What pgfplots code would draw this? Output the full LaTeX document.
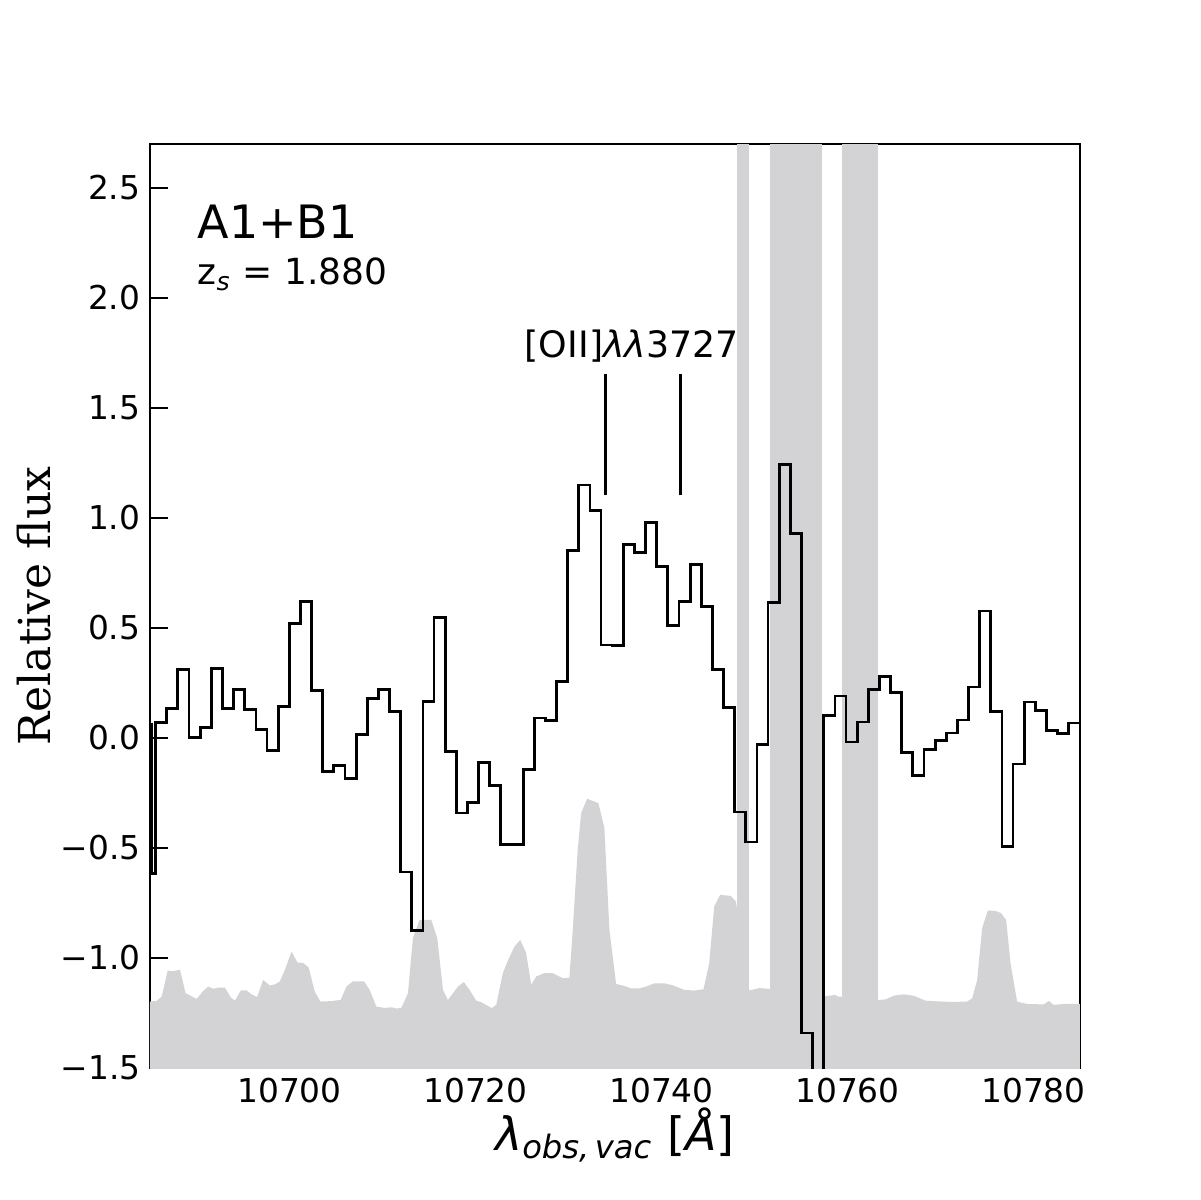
\documentclass[border=0pt]{standalone}
\usepackage{fontspec}
\setmainfont{DejaVu Sans}
\newfontfamily\seriffont{DejaVu Serif}
\usepackage{pgfplots}
\pgfplotsset{compat=1.18}
\definecolor{bandgray}{RGB}{211,210,212}
\begin{document}
\begin{tikzpicture}
\path[use as bounding box] (0,0) rectangle (360pt,360pt);
\begin{axis}[
  at={(45pt,39.6pt)}, anchor=south west,
  scale only axis, width=279pt, height=277.2pt,
  xmin=10685, xmax=10785, ymin=-1.5, ymax=2.7,
  scaled x ticks=false, scaled y ticks=false,
  axis line style={line width=0.75pt},
  tick align=inside, xtick pos=bottom, ytick pos=left,
  major tick length=5.4pt,
  every tick/.style={black, line width=0.6pt},
  xtick={10700,10720,10740,10760,10780},
  xticklabels={10700,10720,10740,10760,10780},
  ytick={-1.5,-1,-0.5,0,0.5,1,1.5,2,2.5},
  yticklabels={−1.5,−1.0,−0.5,0.0,0.5,1.0,1.5,2.0,2.5},
  tick label style={font=\fontsize{9.85}{11}\selectfont, inner sep=0pt},
  yticklabel style={xshift=-2.7pt},
  xticklabel style={yshift=-2.7pt},
  xlabel={\textit{λ}\textsubscript{\textit{obs,\,vac}} [\textit{Å}]},
  xlabel style={at={(axis description cs:0.5,-0.0898)}, anchor=base, font=\fontsize{13.8}{16}\selectfont},
  ylabel={Relative flux},
  ylabel style={at={(axis description cs:-0.1075,0.5)}, anchor=base, font=\seriffont\fontsize{13.2}{16}\selectfont},
  clip=true,
]
% masked regions
\addplot[fill=bandgray, draw=none] coordinates {(10748.07,-1.6) (10748.07,2.8) (10749.43,2.8) (10749.43,-1.6)};
\addplot[fill=bandgray, draw=none] coordinates {(10751.68,-1.6) (10751.68,2.8) (10757.24,2.8) (10757.24,-1.6)};
\addplot[fill=bandgray, draw=none] coordinates {(10759.45,-1.6) (10759.45,2.8) (10763.25,2.8) (10763.25,-1.6)};
% noise spectrum
\addplot[fill=bandgray, draw=none] coordinates {
(10685.00,-1.6) (10685.00,-1.198) (10685.72,-1.195) (10686.26,-1.175) (10686.90,-1.057) (10687.50,-1.060)
(10688.22,-1.053) (10688.83,-1.160) (10690.01,-1.186) (10690.72,-1.150) (10691.26,-1.130)
(10691.80,-1.140) (10692.33,-1.135) (10693.05,-1.135) (10693.70,-1.180) (10694.13,-1.194)
(10694.77,-1.147) (10695.38,-1.147) (10695.92,-1.165) (10696.52,-1.177) (10697.17,-1.100)
(10697.89,-1.125) (10698.42,-1.120) (10698.96,-1.107) (10699.50,-1.054) (10700.22,-0.971)
(10700.86,-1.021) (10701.46,-1.022) (10702.07,-1.044) (10702.72,-1.153) (10703.33,-1.198)
(10704.51,-1.196) (10705.51,-1.190) (10706.12,-1.130) (10706.83,-1.106) (10708.01,-1.106)
(10708.62,-1.145) (10709.34,-1.221) (10710.23,-1.227) (10711.02,-1.224) (10711.49,-1.230)
(10712.03,-1.226) (10712.74,-1.160) (10713.27,-0.910) (10713.99,-0.827) (10715.25,-0.827)
(10715.89,-0.910) (10716.50,-1.145) (10717.03,-1.191) (10718.11,-1.130) (10718.75,-1.109)
(10719.36,-1.145) (10720.08,-1.194) (10720.62,-1.201) (10721.76,-1.228) (10722.23,-1.213)
(10722.94,-1.069) (10723.48,-1.012) (10724.19,-0.948) (10724.81,-0.918) (10725.45,-0.978)
(10725.99,-1.122) (10726.53,-1.084) (10727.42,-1.069) (10728.31,-1.069) (10729.38,-1.092)
(10730.10,-1.089) (10730.46,-0.872) (10730.99,-0.508) (10731.36,-0.341) (10732.00,-0.276)
(10733.21,-0.296) (10733.86,-0.409) (10734.40,-0.872) (10735.12,-1.118) (10736.01,-1.127)
(10736.73,-1.138) (10737.62,-1.138) (10738.34,-1.130) (10739.23,-1.115) (10740.30,-1.115)
(10741.19,-1.124) (10742.45,-1.145) (10743.52,-1.148) (10744.52,-1.142) (10745.13,-1.024)
(10745.67,-0.766) (10746.31,-0.713) (10747.46,-0.718) (10748.00,-0.743) (10748.70,-0.950)
(10749.43,-1.148) (10750.50,-1.137) (10751.58,-1.140) (10753.73,-1.150) (10756.41,-1.170)
(10757.14,-1.175) (10757.93,-1.172) (10758.65,-1.168) (10759.00,-1.175) (10761.24,-1.180)
(10763.28,-1.191) (10764.11,-1.188) (10765.00,-1.171) (10766.07,-1.165) (10767.15,-1.172)
(10768.40,-1.194) (10769.65,-1.197) (10771.09,-1.200) (10772.87,-1.198) (10773.41,-1.183)
(10773.94,-1.100) (10774.48,-0.864) (10775.09,-0.784) (10775.92,-0.786) (10776.52,-0.796)
(10777.06,-0.827) (10777.53,-1.024) (10778.24,-1.198) (10779.31,-1.209) (10781.11,-1.211)
(10781.64,-1.195) (10782.18,-1.213) (10783.26,-1.209) (10785.00,-1.209) (10785.00,-1.6)
};
% observed spectrum (left bin edges, value)
\addplot[const plot, black, line width=0.85pt] coordinates {
(10685.20,0.070) (10685.20,-0.614)
(10685.61,0.071) (10686.81,0.134) (10688.00,0.311) (10689.20,0.003) (10690.40,0.046)
(10691.60,0.316) (10692.79,0.134) (10693.99,0.220) (10695.19,0.131) (10696.39,0.038)
(10697.58,-0.057) (10698.78,0.144) (10699.98,0.519) (10701.17,0.622) (10702.37,0.217)
(10703.57,-0.153) (10704.77,-0.124) (10705.96,-0.185) (10707.16,0.015) (10708.36,0.178)
(10709.56,0.220) (10710.75,0.119) (10711.95,-0.609) (10713.15,-0.875) (10714.35,0.167)
(10715.54,0.549) (10716.74,-0.063) (10717.94,-0.341) (10719.13,-0.295) (10720.33,-0.113)
(10721.53,-0.214) (10722.73,-0.485) (10723.92,-0.485) (10725.12,-0.144) (10726.32,0.091)
(10727.52,0.078) (10728.71,0.255) (10729.91,0.854) (10731.11,1.150) (10732.31,1.036)
(10733.50,0.423) (10734.70,0.419) (10735.90,0.879) (10737.09,0.845) (10738.29,0.979)
(10739.49,0.780) (10740.69,0.510) (10741.88,0.621) (10743.08,0.788) (10744.28,0.599)
(10745.48,0.311) (10746.67,0.137) (10747.87,-0.336) (10749.07,-0.473) (10750.27,-0.030)
(10751.46,0.616) (10752.66,1.244) (10753.86,0.929) (10755.05,-1.341) (10756.25,-1.900)
(10757.45,0.102) (10758.65,0.191) (10759.84,-0.018) (10761.04,0.073) (10762.24,0.220)
(10763.44,0.278) (10764.63,0.205) (10765.83,-0.065) (10767.03,-0.170) (10768.23,-0.054)
(10769.42,-0.013) (10770.62,0.023) (10771.82,0.082) (10773.01,0.232) (10774.21,0.577)
(10775.41,0.119) (10776.61,-0.493) (10777.80,-0.118) (10779.00,0.164) (10780.20,0.125)
(10781.40,0.034) (10782.59,0.020) (10783.79,0.068) (10786.00,0.068)
};
% [OII] doublet markers
\addplot[black, line width=0.9pt] coordinates {(10733.97,1.103) (10733.97,1.654)};
\addplot[black, line width=0.9pt] coordinates {(10742.02,1.103) (10742.02,1.654)};
\node[anchor=base, inner sep=0pt, font=\fontsize{10.9}{12}\selectfont] at (axis cs:10736.8,1.73) {[OII]\textit{λλ}3727};
\node[anchor=base west, inner sep=0pt, font=\fontsize{13.8}{16}\selectfont] at (axis cs:10690.05,2.27) {A1+B1};
\node[anchor=base west, inner sep=0pt, font=\fontsize{10.8}{12}\selectfont] at (axis cs:10690.05,2.06) {z\textsubscript{\textit{s}} = 1.880};
\end{axis}
\end{tikzpicture}
\end{document}
